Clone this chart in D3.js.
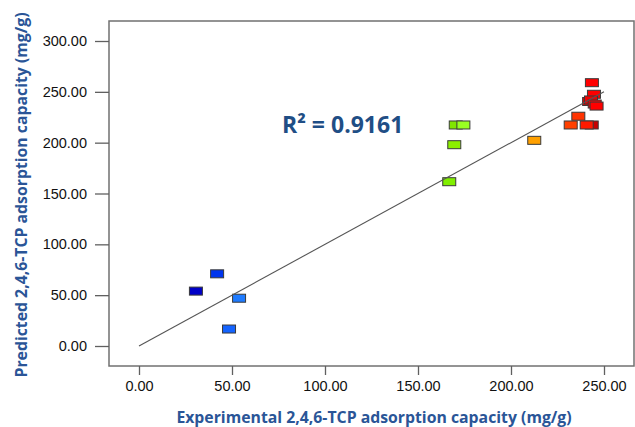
<!DOCTYPE html>
<html>
<head>
<meta charset="utf-8">
<script src="https://cdn.jsdelivr.net/npm/d3@7"></script>
<style>
  body { margin: 0; background: #fff; }
  svg { display: block; }
</style>
</head>
<body>
<svg id="chart"></svg>
<script>
    // ============ DATA =================
    var experimental = [30.6, 42.0, 53.8, 48.4, 166.8, 169.5, 170.3, 174.4, 212.5, 232.1, 236.2, 243.4, 240.7, 243.5, 242.0, 244.6, 243.0, 245.0, 246.0];
    var predicted    = [54.0, 71.0, 47.0, 16.7, 161.6, 198.0, 217.4, 217.4, 202.3, 217.4, 226.0, 217.4, 217.4, 259.0, 240.5, 247.6, 242.0, 238.0, 236.0];
    var pointColors  = ["#0000c8", "#0035ee", "#1e7bff", "#1464ff", "#80ee00", "#8cf000", "#80e600", "#99ff22", "#ffa000", "#ff4000", "#ff3300", "#c80000", "#ff1a00", "#ff0000", "#e60000", "#ff0000", "#f00000", "#ff0000", "#ff0000"];
    var xTicks = [0, 50, 100, 150, 200, 250];
    var yTicks = [0, 50, 100, 150, 200, 250, 300];
    var fitLine = [0, 250];
    var r2Label = "R\u00b2 = 0.9161";
    var xTitle = "Experimental 2,4,6-TCP adsorption capacity (mg/g)";
    var yTitle = "Predicted 2,4,6-TCP adsorption capacity (mg/g)";

    var width = 635, height = 427;
    var frame = { left: 109, top: 21, right: 634, bottom: 366 };
    var blue = "#2a5597";

    var svg = d3.select("#chart")
        .attr("width", width)
        .attr("height", height);

    var xScale = d3.scaleLinear()
        .domain([0, 250])
        .range([139, 604]);

    var yScale = d3.scaleLinear()
        .domain([0, 300])
        .range([346, 41]);

    // frame
    svg.append("rect")
        .attr("x", frame.left)
        .attr("y", frame.top)
        .attr("width", frame.right - frame.left)
        .attr("height", frame.bottom - frame.top)
        .attr("fill", "none")
        .attr("stroke", "#707070")
        .attr("stroke-width", 1.5);

    // axes
    var xAxis = svg.append("g")
        .attr("transform", "translate(0," + frame.bottom + ")")
        .call(d3.axisBottom(xScale).tickValues(xTicks).tickFormat(d3.format(".2f")).tickSize(9).tickPadding(6));

    var yAxis = svg.append("g")
        .attr("transform", "translate(" + frame.left + ",0)")
        .call(d3.axisLeft(yScale).tickValues(yTicks).tickFormat(d3.format(".2f")).tickSize(14).tickPadding(8));

    [xAxis, yAxis].forEach(function (g) {
        g.attr("font-family", "'Liberation Sans', Arial, sans-serif").attr("font-size", 14.5);
        g.select(".domain").remove();
        g.selectAll(".tick line").attr("stroke", "#606060").attr("stroke-width", 1.3);
        g.selectAll(".tick text").attr("fill", "#111");
    });

    // points
    var points = experimental.map(function (d, i) {
        return { x: d, y: predicted[i], color: pointColors[i] };
    });

    svg.selectAll(".pt")
        .data(points)
        .enter().append("rect")
        .attr("class", "pt")
        .attr("x", function (d) { return xScale(d.x) - 6.5; })
        .attr("y", function (d) { return yScale(d.y) - 4; })
        .attr("width", 13)
        .attr("height", 8)
        .attr("fill", function (d) { return d.color; })
        .attr("stroke", "#3a3a3a")
        .attr("stroke-width", 1);

    // y = x fit line
    svg.append("line")
        .attr("x1", xScale(fitLine[0]))
        .attr("y1", yScale(fitLine[0]))
        .attr("x2", xScale(fitLine[1]))
        .attr("y2", yScale(fitLine[1]))
        .attr("stroke", "#555")
        .attr("stroke-width", 1.1);

    // R2 label
    svg.append("text")
        .attr("x", 282)
        .attr("y", 133)
        .attr("fill", "#1f4e85")
        .style("font-family", "'Open Sans', sans-serif")
        .style("font-weight", "bold")
        .style("font-size", "23px")
        .text(r2Label);

    // axis titles
    svg.append("text")
        .attr("x", 374)
        .attr("y", 423)
        .attr("text-anchor", "middle")
        .attr("fill", blue)
        .style("font-family", "'Open Sans', sans-serif")
        .style("font-weight", "bold")
        .style("font-size", "15.8px")
        .text(xTitle);

    svg.append("text")
        .attr("transform", "translate(27,195) rotate(-90)")
        .attr("text-anchor", "middle")
        .attr("fill", blue)
        .style("font-family", "'Open Sans', sans-serif")
        .style("font-weight", "bold")
        .style("font-size", "15.8px")
        .text(yTitle);
</script>
</body>
</html>
